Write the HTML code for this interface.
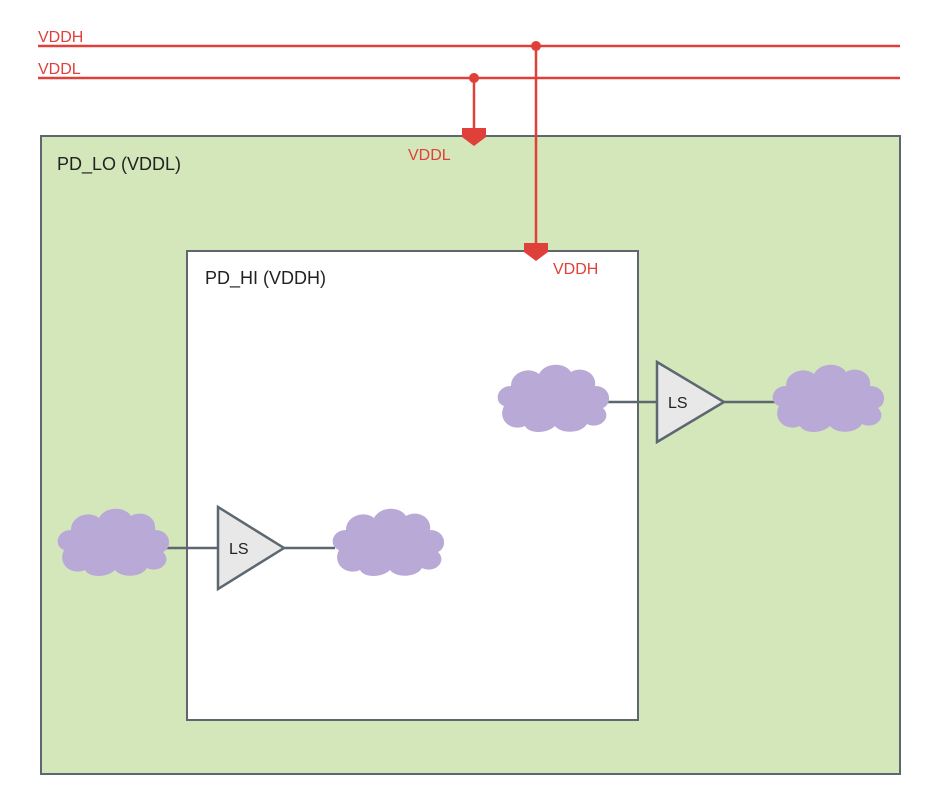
<!DOCTYPE html>
<html><head><style>body{margin:0;background:#fff}svg{display:block}</style></head><body>
<svg width="928" height="810" xmlns="http://www.w3.org/2000/svg" font-family="Liberation Sans, sans-serif">
<defs>
<g id="cl"><path d="M5,42 C-6,38 -2,22 12,22 C12,8 30,2 40,10 C46,-2 66,-2 72,8 C82,2 98,8 96,22 C112,22 114,40 104,44 C114,54 100,66 88,60 C82,70 62,70 56,62 C48,70 30,70 26,62 C12,68 -2,56 5,42 Z" fill="#b9a9d6"/></g>
</defs>
<rect x="41" y="136" width="859" height="638" fill="#d4e7bb" stroke="#5d6770" stroke-width="2"/>
<rect x="187" y="251" width="451" height="469" fill="#fff" stroke="#5d6770" stroke-width="2"/>
<text x="57" y="170" font-size="18" fill="#222">PD_LO (VDDL)</text>
<text x="205" y="284" font-size="18" fill="#222">PD_HI (VDDH)</text>
<g stroke="#e0403a" stroke-width="2.5" fill="none">
<line x1="38" y1="46" x2="900" y2="46"/>
<line x1="38" y1="78" x2="900" y2="78"/>
<line x1="474" y1="78" x2="474" y2="132"/>
<line x1="536" y1="46" x2="536" y2="248"/>
</g>
<g fill="#e0403a">
<circle cx="536" cy="46" r="5"/><circle cx="474" cy="78" r="5"/>
<path d="M462,128 H486 V137 L474,146 L462,137 Z"/>
<path d="M524,243 H548 V252 L536,261 L524,252 Z"/>
</g>
<g font-size="16" fill="#e0403a">
<text x="38" y="42">VDDH</text><text x="38" y="74">VDDL</text>
<text x="408" y="160">VDDL</text><text x="553" y="274">VDDH</text>
</g>
<g stroke="#5d6770" stroke-width="2.5">
<line x1="605" y1="402" x2="657" y2="402"/><line x1="724" y1="402" x2="775" y2="402"/>
<line x1="165" y1="548" x2="218" y2="548"/><line x1="284" y1="548" x2="335" y2="548"/>
</g>
<use href="#cl" x="499" y="364"/><use href="#cl" x="774" y="364"/>
<use href="#cl" x="59" y="508"/><use href="#cl" x="334" y="508"/>
<g fill="#e8e8e8" stroke="#5d6770" stroke-width="2.5">
<path d="M657,362 L657,442 L724,402 Z"/><path d="M218,507 L218,589 L284,548 Z"/>
</g>
<g font-size="16" fill="#222"><text x="668" y="408">LS</text><text x="229" y="554">LS</text></g>
</svg>
</body></html>
